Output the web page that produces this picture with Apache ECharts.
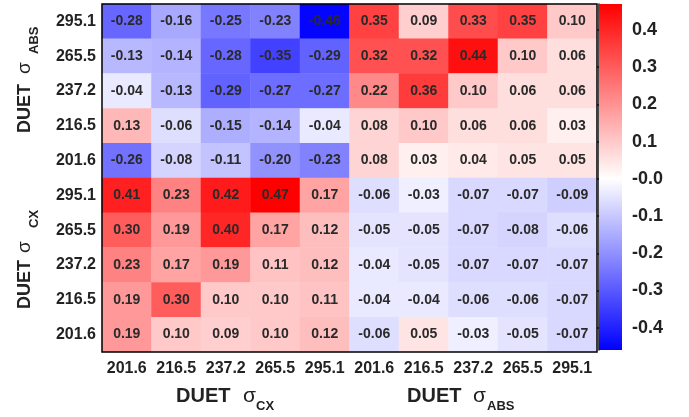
<!DOCTYPE html>
<html>
<head>
<meta charset="utf-8">
<script src="https://cdn.jsdelivr.net/npm/echarts@6/dist/echarts.min.js"></script>
<style>
  html, body { margin: 0; padding: 0; background: #fff; }
  #chart { width: 689px; height: 417px; }
</style>
</head>
<body>
<div id="chart"></div>
<script>
// Energy bins shared by both DUET data sets
const energies = ['201.6', '216.5', '237.2', '265.5', '295.1'];

// Columns: CX energies then ABS energies
const xLabels = energies.concat(energies);
// Rows, top to bottom: ABS 295.1 ... 201.6, then CX 295.1 ... 201.6
const yLabels = energies.slice().reverse().concat(energies.slice().reverse());

// Correlation values, one array per row (top to bottom)
const rowAbs2951 = [-0.28, -0.16, -0.25, -0.23, -0.46, 0.35, 0.09, 0.33, 0.35, 0.10];
const rowAbs2655 = [-0.13, -0.14, -0.28, -0.35, -0.29, 0.32, 0.32, 0.44, 0.10, 0.06];
const rowAbs2372 = [-0.04, -0.13, -0.29, -0.27, -0.27, 0.22, 0.36, 0.10, 0.06, 0.06];
const rowAbs2165 = [0.13, -0.06, -0.15, -0.14, -0.04, 0.08, 0.10, 0.06, 0.06, 0.03];
const rowAbs2016 = [-0.26, -0.08, -0.11, -0.20, -0.23, 0.08, 0.03, 0.04, 0.05, 0.05];
const rowCx2951 = [0.41, 0.23, 0.42, 0.47, 0.17, -0.06, -0.03, -0.07, -0.07, -0.09];
const rowCx2655 = [0.30, 0.19, 0.40, 0.17, 0.12, -0.05, -0.05, -0.07, -0.08, -0.06];
const rowCx2372 = [0.23, 0.17, 0.19, 0.11, 0.12, -0.04, -0.05, -0.07, -0.07, -0.07];
const rowCx2165 = [0.19, 0.30, 0.10, 0.10, 0.11, -0.04, -0.04, -0.06, -0.06, -0.07];
const rowCx2016 = [0.19, 0.10, 0.09, 0.10, 0.12, -0.06, 0.05, -0.03, -0.05, -0.07];

const rows = [rowAbs2951, rowAbs2655, rowAbs2372, rowAbs2165, rowAbs2016,
              rowCx2951, rowCx2655, rowCx2372, rowCx2165, rowCx2016];

// Colour scale range and colour-bar ticks
const zMin = -0.46;
const zMax = 0.47;
const colorbarTicks = [-0.4, -0.3, -0.2, -0.1, 0, 0.1, 0.2, 0.3, 0.4];

const cells = [];
rows.forEach((row, yi) => row.forEach((v, xi) => cells.push([xi, yi, v])));

const FONT = "'Liberation Sans', Arial, Helvetica, sans-serif";
const TXT = '#222';

// Plot frame
const G = { left: 102, top: 4, width: 495, height: 348 };
const CB = { left: 599, top: 4, width: 23, height: 346 };
const whiteStop = zMax / (zMax - zMin);

function titleGroup(x, y, rot, size, sigmaAt, subAt, sub, subSize, subShift) {
  return {
    type: 'group', x: x, y: y, rotation: rot, z: 50,
    children: [
      { type: 'text', style: { x: 0, y: 0, text: 'DUET', font: 'bold ' + size + 'px ' + FONT,
          fill: TXT, textVerticalAlign: 'middle' } },
      { type: 'text', style: { x: sigmaAt, y: 0, text: 'σ', font: (size + 1) + 'px ' + FONT,
          fill: TXT, textVerticalAlign: 'middle' } },
      { type: 'text', style: { x: subAt, y: subShift, text: sub,
          font: 'bold ' + subSize + 'px ' + FONT,
          fill: TXT, textVerticalAlign: 'middle' } }
    ]
  };
}

const chart = echarts.init(document.getElementById('chart'), null, { renderer: 'canvas' });
chart.setOption({
  animation: false,
  backgroundColor: '#fff',
  grid: [
    { left: G.left, top: G.top, width: G.width, height: G.height, containLabel: false },
    { left: CB.left, top: CB.top, width: CB.width, height: CB.height, containLabel: false }
  ],
  xAxis: [
    {
      type: 'category', data: xLabels, gridIndex: 0,
      axisLine: { show: false }, axisTick: { show: false }, splitLine: { show: false },
      axisLabel: { margin: 9, fontSize: 16, fontWeight: 'bold', fontFamily: FONT, color: TXT, interval: 0 }
    },
    { type: 'value', gridIndex: 1, min: 0, max: 1, show: false }
  ],
  yAxis: [
    {
      type: 'category', data: yLabels, gridIndex: 0, inverse: true,
      axisLine: { show: false }, axisTick: { show: false }, splitLine: { show: false },
      axisLabel: { margin: 6, fontSize: 16, fontWeight: 'bold', fontFamily: FONT, color: TXT, interval: 0 }
    },
    {
      type: 'value', gridIndex: 1, position: 'right', min: zMin, max: zMax,
      axisLine: { show: true, lineStyle: { color: '#111', width: 1.5 } },
      axisTick: { show: true, inside: true, length: 5, customValues: colorbarTicks,
        lineStyle: { color: '#111', width: 1.5 } },
      axisLabel: { show: true, margin: 10, fontSize: 18, fontWeight: 'bold', fontFamily: FONT, color: TXT,
        customValues: colorbarTicks,
        formatter: v => (Math.abs(v) < 1e-9 ? '-0.0' : v.toFixed(1)) },
      splitLine: { show: false }
    }
  ],
  visualMap: {
    show: false, type: 'continuous', min: -0.47, max: 0.47, seriesIndex: 0,
    inRange: { color: ['#0000ff', '#ffffff', '#ff0000'] }
  },
  series: [{
    type: 'heatmap', xAxisIndex: 0, yAxisIndex: 0, data: cells,
    itemStyle: { borderWidth: 0 },
    emphasis: { disabled: true },
    label: {
      show: true, fontSize: 14, fontWeight: 'bold', fontFamily: FONT, color: '#2a2a2a',
      formatter: p => p.value[2].toFixed(2)
    }
  }],
  graphic: [
    // colour bar
    { type: 'rect', z: 5,
      shape: { x: CB.left, y: CB.top, width: CB.width, height: CB.height },
      style: { fill: new echarts.graphic.LinearGradient(0, 0, 0, 1, [
        { offset: 0, color: '#ff0000' },
        { offset: whiteStop, color: '#ffffff' },
        { offset: 1, color: '#0000ff' }
      ]) } },
    // frame around the matrix
    { type: 'rect', z: 40,
      shape: { x: G.left, y: G.top, width: G.width, height: G.height },
      style: { fill: 'none', stroke: '#000', lineWidth: 1.5 } },
    titleGroup(176, 396, 0, 20, 67, 80, 'CX', 13, 10),
    titleGroup(407, 396, 0, 20, 66, 80, 'ABS', 13, 10),
    titleGroup(25, 133, Math.PI / 2, 18, 59, 79, 'ABS', 13, 9),
    titleGroup(25, 309, Math.PI / 2, 18, 56, 81, 'CX', 13, 9)
  ]
});
</script>
</body>
</html>
